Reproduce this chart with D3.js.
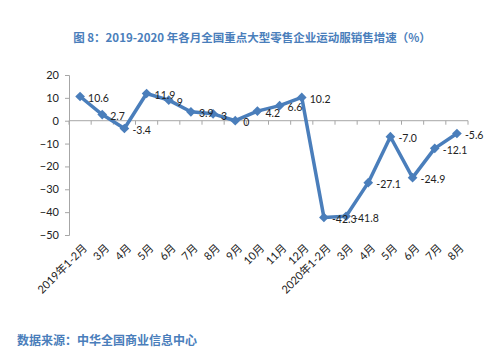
<!DOCTYPE html>
<html>
<head>
<meta charset="utf-8">
<script src="https://cdn.jsdelivr.net/npm/d3@7"></script>
<style>
  body { margin: 0; background: #fff; }
  svg { display: block; }
</style>
</head>
<body>
<div id="chart"></div>
<script>
// months on the x axis
const categories = ["2019年1-2月", "3月", "4月", "5月", "6月", "7月", "8月", "9月", "10月", "11月", "12月",
    "2020年1-2月", "3月", "4月", "5月", "6月", "7月", "8月"];
// sales growth (%)
const growth = [10.6, 2.7, -3.4, 11.9, 9, 3.9, 3, 0, 4.2, 6.6, 10.2,
    -42.3, -41.8, -27.1, -7.0, -24.9, -12.1, -5.6];
const growthLabels = ["10.6", "2.7", "-3.4", "11.9", "9", "3.9", "3", "0", "4.2", "6.6", "10.2",
    "-42.3", "-41.8", "-27.1", "-7.0", "-24.9", "-12.1", "-5.6"];
const yTicks = [20, 10, 0, -10, -20, -30, -40, -50];

const titleText = "图 8：2019-2020 年各月全国重点大型零售企业运动服销售增速（%）";
const sourceText = "数据来源：中华全国商业信息中心";

const width = 500, height = 351;
const plot = { left: 69, right: 468, top: 75, bottom: 235 };
const blue = "#4a7ebb";
const axisGrey = "#a6a6a6";
const labelFont = "Lato, 'Noto Sans CJK SC', sans-serif";

const svg = d3.select("#chart")
    .append("svg")
    .attr("width", width)
    .attr("height", height);

// Title
svg.append("text")
    .attr("x", 252)
    .attr("y", 42)
    .attr("text-anchor", "middle")
    .style("font-family", "'Noto Sans CJK SC', sans-serif")
    .style("font-size", "11.5px")
    .style("font-weight", "bold")
    .style("fill", blue)
    .text(titleText);

// Scales
const x = d3.scaleBand()
    .domain(d3.range(categories.length))
    .range([plot.left, plot.right]);

const y = d3.scaleLinear()
    .domain([-50, 20])
    .range([plot.bottom, plot.top]);

// Y axis
const yAxis = svg.append("g")
    .attr("transform", `translate(${plot.left},0)`)
    .call(d3.axisLeft(y).tickValues(yTicks).tickSize(4).tickPadding(6));

yAxis.select(".domain").attr("stroke", axisGrey);
yAxis.selectAll(".tick line").attr("stroke", axisGrey);
yAxis.selectAll(".tick text")
    .style("font-family", labelFont)
    .style("font-size", "11px")
    .style("fill", "#222");

// Zero line with ticks between categories
const zero = svg.append("g")
    .attr("transform", `translate(0,${y(0)})`);

zero.append("line")
    .attr("x1", plot.left)
    .attr("x2", plot.right)
    .attr("stroke", axisGrey);

zero.selectAll("line.cat-tick")
    .data(d3.range(categories.length + 1))
    .enter()
    .append("line")
    .attr("class", "cat-tick")
    .attr("x1", i => plot.left + i * x.step())
    .attr("x2", i => plot.left + i * x.step())
    .attr("y1", 0)
    .attr("y2", 4)
    .attr("stroke", axisGrey);

// Category labels at the bottom, rotated
svg.selectAll("text.cat-label")
    .data(categories)
    .enter()
    .append("text")
    .attr("class", "cat-label")
    .attr("transform", (d, i) => `translate(${x(i) + x.bandwidth() / 2 + 5},${plot.bottom + 11}) rotate(-45)`)
    .attr("text-anchor", "end")
    .attr("dy", "0.35em")
    .style("font-family", labelFont)
    .style("font-size", "11px")
    .style("fill", "#222")
    .text(d => d);

// Line
const line = d3.line()
    .x((d, i) => x(i) + x.bandwidth() / 2)
    .y(d => y(d));

svg.append("path")
    .datum(growth)
    .attr("d", line)
    .attr("fill", "none")
    .attr("stroke", blue)
    .attr("stroke-width", 3.5)
    .attr("stroke-linejoin", "round");

// Diamond markers
svg.selectAll("path.marker")
    .data(growth)
    .enter()
    .append("path")
    .attr("class", "marker")
    .attr("d", d3.symbol().type(d3.symbolDiamond2).size(60))
    .attr("transform", (d, i) => `translate(${x(i) + x.bandwidth() / 2},${y(d)})`)
    .attr("fill", blue);

// Data labels to the right of each point
svg.selectAll("text.value")
    .data(growth)
    .enter()
    .append("text")
    .attr("class", "value")
    .attr("x", (d, i) => x(i) + x.bandwidth() / 2 + 8)
    .attr("y", d => y(d) + 2)
    .attr("dy", "0.35em")
    .style("font-family", labelFont)
    .style("font-size", "10.5px")
    .style("fill", "#222")
    .text((d, i) => growthLabels[i]);

// Source note
svg.append("text")
    .attr("x", 17)
    .attr("y", 345)
    .style("font-family", "'Noto Sans CJK SC', sans-serif")
    .style("font-size", "12px")
    .style("font-weight", "bold")
    .style("fill", blue)
    .text(sourceText);
</script>
</body>
</html>
